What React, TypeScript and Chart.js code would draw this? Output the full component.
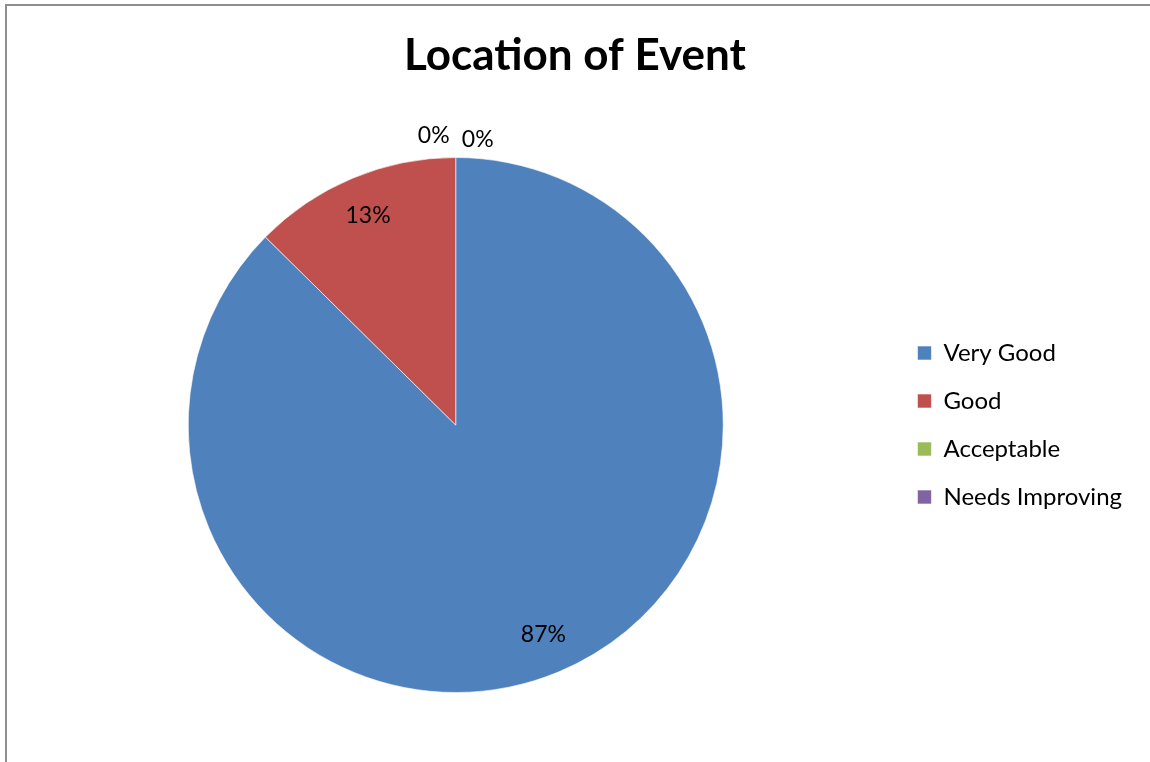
import React, { useEffect, useRef } from "react";
import { Chart, registerables } from "chart.js";

Chart.register(...registerables);

const categories = ["Very Good", "Good", "Acceptable", "Needs Improving"];
const values = [87.4, 12.6, 0, 0];
const colors = ["#4F81BD", "#C0504D", "#9BBB59", "#8064A2"];
const chartTitle = "Location of Event";

const FONT = "Lato, 'Open Sans', sans-serif";

const pctLabelPlugin = {
  id: "pctLabels",
  afterDatasetsDraw(chart: any) {
    const ctx = chart.ctx;
    const meta = chart.getDatasetMeta(0);
    const data = chart.data.datasets[0].data as number[];
    const total = data.reduce((a: number, b: number) => a + b, 0);
    const zeroCount = data.filter((v) => v === 0).length;
    let zeroIdx = 0;
    ctx.save();
    ctx.font = `23px ${FONT}`;
    ctx.fillStyle = "#000";
    ctx.textAlign = "center";
    ctx.textBaseline = "middle";
    meta.data.forEach((arc: any, i: number) => {
      const { x, y, startAngle, endAngle, outerRadius } = arc.getProps(
        ["x", "y", "startAngle", "endAngle", "outerRadius"],
        true
      );
      const mid = (startAngle + endAngle) / 2;
      const txt = Math.round((data[i] / total) * 100) + "%";
      let lx: number, ly: number;
      if (data[i] === 0) {
        const r = outerRadius + 20;
        const shift = zeroIdx - (zeroCount - 1) / 2;
        lx = x + Math.cos(mid) * r + shift * 44;
        ly = y + Math.sin(mid) * r + shift * 4;
        zeroIdx++;
      } else {
        const r = outerRadius * 0.85;
        lx = x + Math.cos(mid) * r;
        ly = y + Math.sin(mid) * r;
      }
      ctx.fillText(txt, lx, ly);
    });
    ctx.restore();
  },
};

export default function App() {
  const canvasRef = useRef<HTMLCanvasElement | null>(null);

  useEffect(() => {
    if (!canvasRef.current) return;
    const chart = new Chart(canvasRef.current, {
      type: "pie",
      data: {
        labels: categories,
        datasets: [
          {
            data: values,
            backgroundColor: colors,
            borderColor: "rgba(255,255,255,0.6)",
            borderWidth: 1,
            hoverOffset: 0,
          },
        ],
      },
      options: {
        responsive: false,
        animation: false,
        devicePixelRatio: 1,
        layout: { padding: { top: 0, bottom: 69, left: 18, right: 18 } },
        plugins: {
          title: {
            display: true,
            text: chartTitle,
            color: "#000",
            font: { family: FONT, size: 44, weight: "bold" },
            padding: { top: 29.6, bottom: 74.6 },
          },
          legend: {
            display: true,
            position: "right",
            fullSize: false,
            labels: {
              color: "#000",
              font: { family: FONT, size: 24 },
              boxWidth: 14,
              boxHeight: 14,
              padding: 24,
            },
          },
          tooltip: { enabled: false },
        },
      },
      plugins: [pctLabelPlugin],
    });
    return () => chart.destroy();
  }, []);

  return (
    <div
      style={{
        position: "fixed",
        left: 0,
        top: 0,
        width: 1150,
        height: 762,
        background: "#fff",
        overflow: "hidden",
      }}
    >
      <div
        style={{
          position: "absolute",
          left: 5,
          top: 4,
          right: -10,
          bottom: -10,
          borderTop: "2px solid #8f8f8f",
          borderLeft: "2px solid #8f8f8f",
        }}
      />
      <canvas
        ref={canvasRef}
        width={1150}
        height={762}
        style={{ position: "absolute", left: 0, top: 0 }}
      />
    </div>
  );
}
